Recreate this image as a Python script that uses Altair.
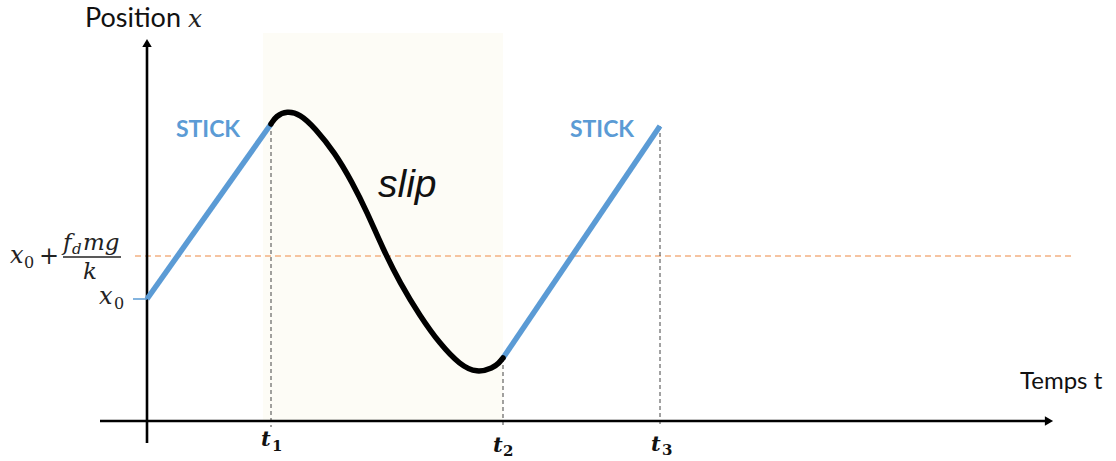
import altair as alt
import pandas as pd

# Coordinates: t along the time axis, x along the position axis,
# both measured from the point where the two axes cross.
T_DOMAIN = [-147, 969]
X_DOMAIN = [-40, 421]

t_names = ["1", "2", "3"]
t_marks = [124, 356, 513]           # t1, t2, t3
x0_level = 122
friction_level = 165                # x0 + f_d m g / k

stick1_t = [0, 124]
stick1_x = [122, 297]
stick2_t = [356, 513]
stick2_x = [63, 295]

slip_t = [124, 129, 140, 153, 168, 188, 205, 220, 236, 253, 273, 293, 313, 330, 346, 352, 356]
slip_x = [297, 305, 310, 307, 293, 268, 239, 209, 172, 138, 105, 77, 56, 48, 53, 58, 63]

t_tops = [297, 63, 295]             # where each dashed marker meets the curve
slip_band = [116, 356, 1, 388]      # t from, t to, x from, x to

axis_t = [-47, 907]
axis_x = [-22, 383]

BLUE = "#5b9bd5"
ORANGE = "#f4b183"

xs = alt.Scale(domain=T_DOMAIN, nice=False, zero=False)
ys = alt.Scale(domain=X_DOMAIN, nice=False, zero=False)


def X(field="t"):
    return alt.X(f"{field}:Q", scale=xs, axis=None)


def Y(field="x"):
    return alt.Y(f"{field}:Q", scale=ys, axis=None)


# shaded slip phase
band = alt.Chart(pd.DataFrame({
    "t": [slip_band[0]], "t2": [slip_band[1]],
    "x": [slip_band[2]], "x2": [slip_band[3]],
})).mark_rect(color="#fdfcf6").encode(
    x=X(), x2="t2:Q", y=Y(), y2="x2:Q"
)

# friction threshold level
thresh = alt.Chart(pd.DataFrame({"t": [-12], "t2": [928], "x": [friction_level]})).mark_rule(
    color=ORANGE, strokeWidth=1.4, strokeDash=[6, 4]
).encode(x=X(), x2="t2:Q", y=Y())

# dashed time markers
markers = alt.Chart(pd.DataFrame({
    "t": t_marks, "x": t_tops, "x2": [-6] * 3,
})).mark_rule(color="#444444", strokeWidth=1, strokeDash=[4, 3]).encode(
    x=X(), y=Y(), y2="x2:Q"
)

# axes
x_axis = alt.Chart(pd.DataFrame({"t": [axis_t[0]], "t2": [axis_t[1] - 4], "x": [0]})).mark_rule(
    color="black", strokeWidth=2.6
).encode(x=X(), x2="t2:Q", y=Y())
y_axis = alt.Chart(pd.DataFrame({"t": [0], "x": [axis_x[0]], "x2": [axis_x[1] - 4]})).mark_rule(
    color="black", strokeWidth=2.6
).encode(x=X(), y=Y(), y2="x2:Q")
arrow_r = alt.Chart(pd.DataFrame({"t": [axis_t[1] - 5], "x": [0]})).mark_point(
    shape="triangle-right", filled=True, color="black", opacity=1, size=90
).encode(x=X(), y=Y())
arrow_u = alt.Chart(pd.DataFrame({"t": [0], "x": [axis_x[1] - 5]})).mark_point(
    shape="triangle-up", filled=True, color="black", opacity=1, size=90
).encode(x=X(), y=Y())

# x0 tick left of the position axis
x0_tick = alt.Chart(pd.DataFrame({"t": [-14], "t2": [0], "x": [x0_level]})).mark_rule(
    color=BLUE, strokeWidth=1.5
).encode(x=X(), x2="t2:Q", y=Y())

# stick phases
stick_df = pd.DataFrame({
    "t": stick1_t + stick2_t,
    "x": stick1_x + stick2_x,
    "seg": ["a", "a", "b", "b"],
})
sticks = alt.Chart(stick_df).mark_line(color=BLUE, strokeWidth=5.5).encode(
    x=X(), y=Y(), detail="seg:N"
)

# slip phase
slip_df = pd.DataFrame({"t": slip_t, "x": slip_x, "i": list(range(len(slip_t)))})
slip = alt.Chart(slip_df).mark_line(
    color="black", strokeWidth=5.5, interpolate="basis", strokeCap="round"
).encode(x=X(), y=Y(), order="i:Q")

# fraction bar of the threshold label
frac_bar = alt.Chart(pd.DataFrame({"t": [-84], "t2": [-26], "x": [164]})).mark_rule(
    color="#222222", strokeWidth=1.4
).encode(x=X(), x2="t2:Q", y=Y())


def text_layer(rows, **mark_kw):
    df = pd.DataFrame(rows, columns=["t", "x", "label", "size"])
    return alt.Chart(df).mark_text(align="left", baseline="alphabetic", **mark_kw).encode(
        x=X(), y=Y(), text="label:N", size=alt.Size("size:Q", scale=None, legend=None)
    )


sans = text_layer([
    (-62, 394, "Position", 27),
    (873, 32, "Temps t", 24),
], font="Lato", color="#111111")

stick_labels = alt.Chart(pd.DataFrame({
    "t": [61, 455], "x": [284, 284], "label": ["STICK", "STICK"],
})).mark_text(font="Lato", fontWeight="bold", fontSize=23, color=BLUE,
              align="center", baseline="alphabetic").encode(x=X(), y=Y(), text="label:N")

slip_label = text_layer([(231, 224, "slip", 39)], font="Liberation Sans",
                        fontStyle="italic", color="#111111")

math_italic = text_layer([
    (41, 394, "x", 25),
    (-137, 158, "x", 24),
    (-84, 171, "f", 23),
    (-75, 167, "d", 15),
    (-64, 171, "mg", 23),
    (-64, 142, "k", 23),
    (-48, 117, "x", 24),
], font="DejaVu Serif", fontStyle="italic", color="#222222")

math_upright = text_layer([
    (-123, 153, "0", 16),
    (-108, 157, "+", 24),
    (-33, 112, "0", 16),
], font="DejaVu Serif", color="#222222")

t_letters = text_layer([
    (t_marks[0] - 10, -25, "t", 21),
    (t_marks[1] - 10, -31, "t", 21),
    (t_marks[2] - 9, -30, "t", 21),
], font="DejaVu Serif", fontStyle="italic", fontWeight="bold", color="#111111")

t_subs = text_layer([
    (t_marks[0] + 1, -30, t_names[0], 15),
    (t_marks[1] + 0, -35, t_names[1], 15),
    (t_marks[2] + 2, -34, t_names[2], 15),
], font="DejaVu Serif", fontWeight="bold", color="#111111")

chart = alt.layer(
    band, thresh, markers, x_axis, y_axis, arrow_r, arrow_u, x0_tick,
    sticks, slip, frac_bar, sans, stick_labels, slip_label,
    math_italic, math_upright, t_letters, t_subs,
).properties(
    width=1116, height=461, padding=0, autosize=alt.AutoSizeParams(type="none"),
    background="white",
).configure_view(stroke=None)

chart.save("out.html", embed_options={"renderer": "svg", "actions": False})
